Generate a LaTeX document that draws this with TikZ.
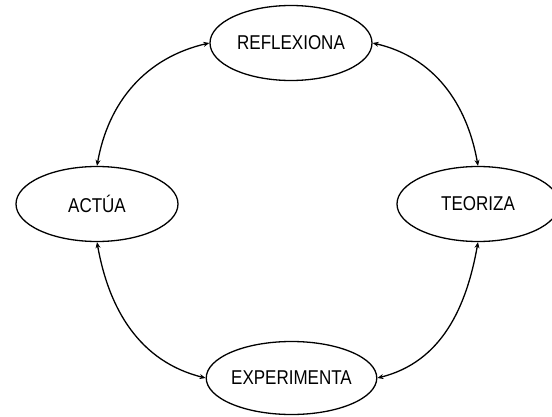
\documentclass[tikz,border=0pt]{standalone}
\usepackage{fontspec}
\setmainfont{Liberation Sans}[FakeStretch=0.85]
\usetikzlibrary{shapes.geometric,arrows.meta}
\begin{document}
\begin{tikzpicture}[x=1pt,y=1pt,
 stage/.style={ellipse,draw,line width=1.3pt,minimum width=162pt,minimum height=75pt,inner sep=0pt,font=\fontsize{20}{24}\selectfont},
 link/.style={line width=1.3pt,{Stealth[length=6pt,width=5pt]}-{Stealth[length=6pt,width=5pt]}}]
\useasboundingbox (0,0) rectangle (552,416);
\node[stage] (ref) at (291,373) {REFLEXIONA};
\node[stage] (act) at (97,212) {ACTÚA};
\node[stage] (teo) at (478,212) {TEORIZA};
\node[stage,minimum height=73pt,minimum width=163pt] (exp) at (291.5,378) [yshift=-340pt] {EXPERIMENTA};
\draw[link] (ref.west) to[out=193,in=80] (act.north);
\draw[link] (ref.east) to[out=-13,in=100] (teo.north);
\draw[link] (act.south) to[out=-80,in=166] (exp.west);
\draw[link] (teo.south) to[out=-100,in=14] (exp.east);
\end{tikzpicture}
\end{document}
